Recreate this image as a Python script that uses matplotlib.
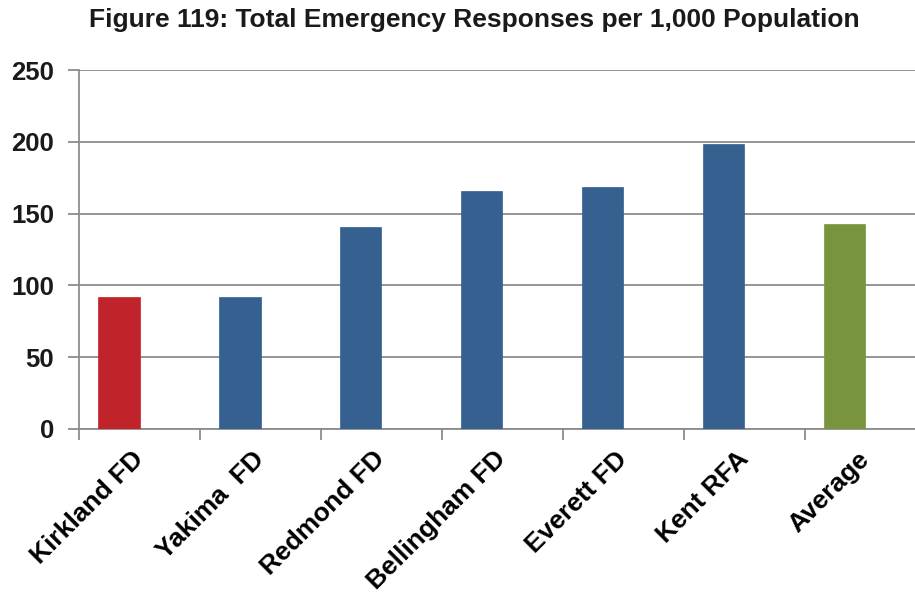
import matplotlib
matplotlib.use("Agg")
import matplotlib.pyplot as plt

plt.rcParams['font.family'] = ['Liberation Sans', 'DejaVu Sans']

categories = ["Kirkland FD", "Yakima  FD", "Redmond FD", "Bellingham FD",
              "Everett FD", "Kent RFA", "Average"]
values = [92, 92, 140.5, 165.5, 168.3, 198.5, 142.8]
colors = ["#C0232A", "#35608F", "#35608F", "#35608F", "#35608F", "#35608F", "#78943C"]
yticks = [0, 50, 100, 150, 200, 250]
title = "Figure 119: Total Emergency Responses per 1,000 Population"

W, H = 915, 594
fig = plt.figure(figsize=(W / 100, H / 100), dpi=100)
left, right, top, bottom = 79, 926, 70, 429
ax = fig.add_axes([left / W, 1 - bottom / H, (right - left) / W, (bottom - top) / H])

x = list(range(len(categories)))
ax.bar(x, values, width=-0.34, align='edge', color=colors, zorder=3,
       edgecolor=colors, linewidth=0.5)

ax.set_xlim(-0.5, len(categories) - 0.5)
ax.set_ylim(0, 250)
ax.set_yticks(yticks)
ax.set_yticklabels([str(v) for v in yticks], fontsize=18.5, fontweight='bold')
ax.yaxis.grid(True, color='#8c8c8c', linewidth=1.3, zorder=0)
ax.set_axisbelow(True)

ax.set_xticks([i - 0.5 for i in x], minor=False)
ax.set_xticklabels([])
ax.set_xticks(x, minor=True)
ax.set_xticklabels(categories, minor=True, rotation=45, ha='right', va='center',
                   rotation_mode='anchor', fontsize=19, fontweight='bold')
ax.tick_params(axis='x', which='minor', length=0, pad=19)
ax.tick_params(axis='x', which='major', length=8, width=1.3, color='#8c8c8c',
               direction='out')
ax.tick_params(axis='y', length=8, width=1.3, color='#8c8c8c', direction='out',
               pad=10, colors='#8c8c8c', labelcolor='#1a1a1a')

for s in ['top', 'right']:
    ax.spines[s].set_visible(False)
for s in ['left', 'bottom']:
    ax.spines[s].set_color('#8c8c8c')
    ax.spines[s].set_linewidth(1.3)

fig.text(474 / W, 1 - 20 / H, title, ha='center', va='center',
         fontsize=19, fontweight='bold', color='#1a1a1a')

fig.savefig("out.png", dpi=100, facecolor='white')
